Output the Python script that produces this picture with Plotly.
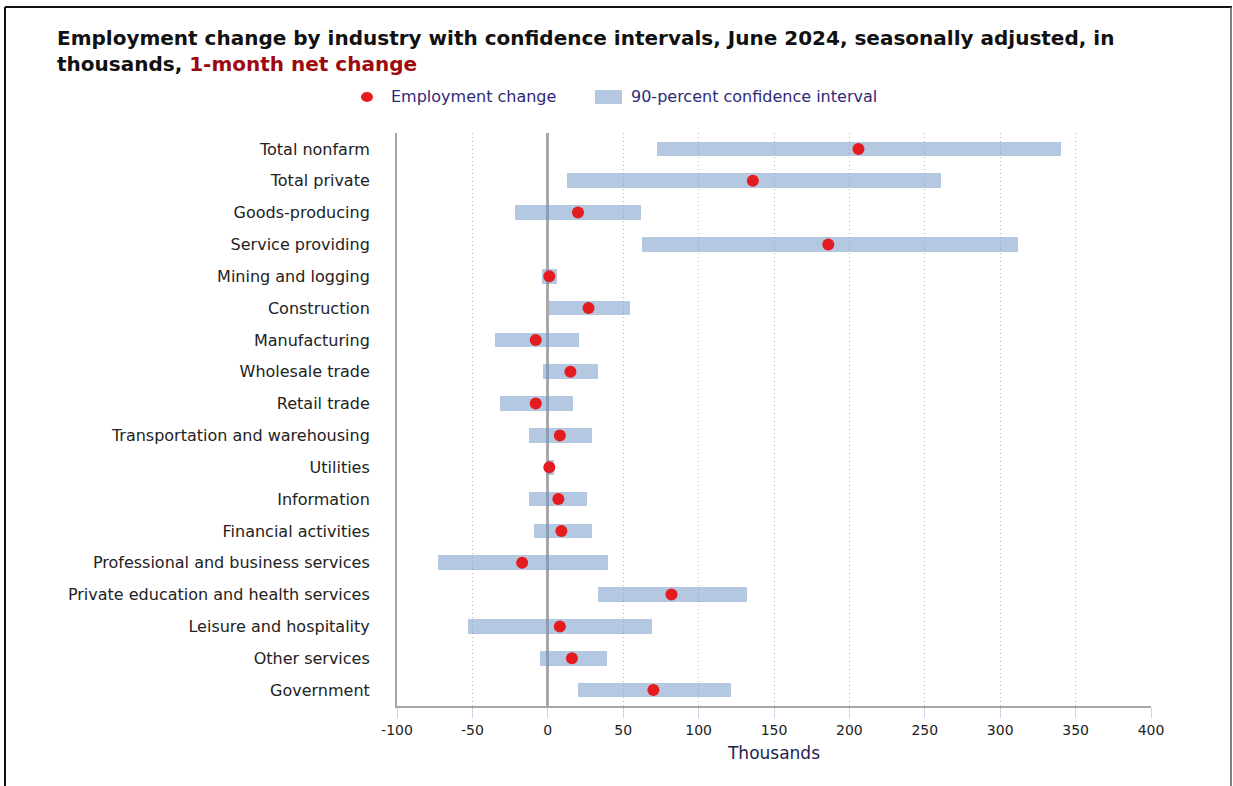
import plotly.graph_objects as go

# Industries, top to bottom
industries = [
    "Total nonfarm",
    "Total private",
    "Goods-producing",
    "Service providing",
    "Mining and logging",
    "Construction",
    "Manufacturing",
    "Wholesale trade",
    "Retail trade",
    "Transportation and warehousing",
    "Utilities",
    "Information",
    "Financial activities",
    "Professional and business services",
    "Private education and health services",
    "Leisure and hospitality",
    "Other services",
    "Government",
]

# 1-month net change (thousands)
net_change = [206, 136, 20, 186, 1, 27, -8, 15, -8, 8, 1, 7, 9, -17, 82, 8, 16, 70]

# 90-percent confidence interval bounds (thousands)
ci_low = [72.5, 13, -21.5, 62.5, -4, 0.5, -35, -3, -31.5, -12.5, -0.5, -12.5, -9, -72.5, 33, -53, -5.5, 20]
ci_high = [340.5, 260.5, 61.5, 312, 6, 54.5, 21, 33, 16.5, 29, 4, 26, 29, 40, 132, 69, 39, 121.5]

x_ticks = [-100, -50, 0, 50, 100, 150, 200, 250, 300, 350, 400]

W, H = 1233, 786
M_L, M_R, M_T, M_B = 397, 82, 133, 80
PW, PH = W - M_L - M_R, H - M_T - M_B

LABEL_FONT = "DejaVu Sans, Verdana, sans-serif"
TITLE_FONT = "DejaVu Sans, Arial, sans-serif"

DOT_COLOR = "#e41b1f"
BAND_COLOR = "rgba(105,145,195,0.5)"
LEGEND_TEXT = "#2e2a78"


def px_x(p):
    return (p - M_L) / PW


def px_y(p):
    return (H - M_B - p) / PH


fig = go.Figure()

fig.add_trace(go.Bar(
    y=industries,
    x=[h - l for l, h in zip(ci_low, ci_high)],
    base=ci_low,
    orientation="h",
    width=0.46,
    marker=dict(color=BAND_COLOR, line=dict(width=0)),
    name="90-percent confidence interval",
    showlegend=False,
    hoverinfo="skip",
))

fig.add_trace(go.Scatter(
    y=industries,
    x=net_change,
    mode="markers",
    marker=dict(color=DOT_COLOR, size=12, line=dict(width=0)),
    name="Employment change",
    showlegend=False,
))

# page frame
frame = dict(type="line", xref="paper", yref="paper", layer="above")
fig.add_shape(**frame, x0=px_x(5), x1=px_x(5), y0=px_y(7), y1=px_y(786),
              line=dict(color="#111111", width=2))
fig.add_shape(**frame, x0=px_x(5), x1=px_x(1232), y0=px_y(7), y1=px_y(7),
              line=dict(color="#111111", width=2))
fig.add_shape(**frame, x0=px_x(1231), x1=px_x(1231), y0=px_y(7), y1=px_y(786),
              line=dict(color="#555555", width=1.5))

# key above the plot: red dot and blue band swatch with their labels
fig.add_shape(type="circle", xref="paper", yref="paper",
              x0=px_x(361), x1=px_x(373), y0=px_y(92), y1=px_y(102),
              fillcolor=DOT_COLOR, line=dict(width=0))
fig.add_shape(type="rect", xref="paper", yref="paper",
              x0=px_x(595), x1=px_x(622), y0=px_y(90), y1=px_y(104),
              fillcolor=BAND_COLOR, line=dict(width=0))
fig.add_annotation(text="Employment change", xref="paper", yref="paper",
                   x=px_x(389), y=px_y(97), xanchor="left", yanchor="middle",
                   showarrow=False, font=dict(family=LABEL_FONT, size=16, color=LEGEND_TEXT))
fig.add_annotation(text="90-percent confidence interval", xref="paper", yref="paper",
                   x=px_x(629), y=px_y(97), xanchor="left", yanchor="middle",
                   showarrow=False, font=dict(family=LABEL_FONT, size=16, color=LEGEND_TEXT))

fig.update_layout(
    width=W,
    height=H,
    margin=dict(l=M_L, r=M_R, t=M_T, b=M_B),
    paper_bgcolor="white",
    plot_bgcolor="white",
    showlegend=False,
    title=dict(
        text=("Employment change by industry with confidence intervals, June 2024, seasonally adjusted, in"
              "<br>thousands, <span style='color:#a0080f'>1-month net change</span>"),
        font=dict(family=TITLE_FONT, size=20, color="#111111", weight="bold"),
        xref="container", yref="container",
        x=57 / W, xanchor="left",
        y=1 - 45 / H, yanchor="middle",
    ),
    bargap=0,
    xaxis=dict(
        range=[-100, 400],
        tickvals=x_ticks,
        ticktext=[str(v) for v in x_ticks],
        showgrid=True,
        gridcolor="#b8b8b8",
        griddash="1px,3px",
        gridwidth=1,
        zeroline=True,
        zerolinecolor="#a8a8a8",
        zerolinewidth=2.5,
        showline=True,
        linecolor="#a6a6a6",
        linewidth=2,
        ticks="outside",
        ticklen=10,
        tickcolor="#c5d5ea",
        tickwidth=1,
        tickfont=dict(family=LABEL_FONT, size=14, color="#222222"),
        title=dict(text="Thousands", font=dict(family=LABEL_FONT, size=17, color="#1e1e50"),
                   standoff=10),
        fixedrange=True,
    ),
    yaxis=dict(
        type="category",
        categoryorder="array",
        categoryarray=industries,
        range=[len(industries) - 0.5, -0.5],
        showgrid=False,
        zeroline=False,
        showline=True,
        linecolor="#a6a6a6",
        linewidth=2,
        ticks="",
        ticklabelstandoff=22,
        tickfont=dict(family=LABEL_FONT, size=16, color="#222222"),
        fixedrange=True,
    ),
)

fig.write_html("out.html")
